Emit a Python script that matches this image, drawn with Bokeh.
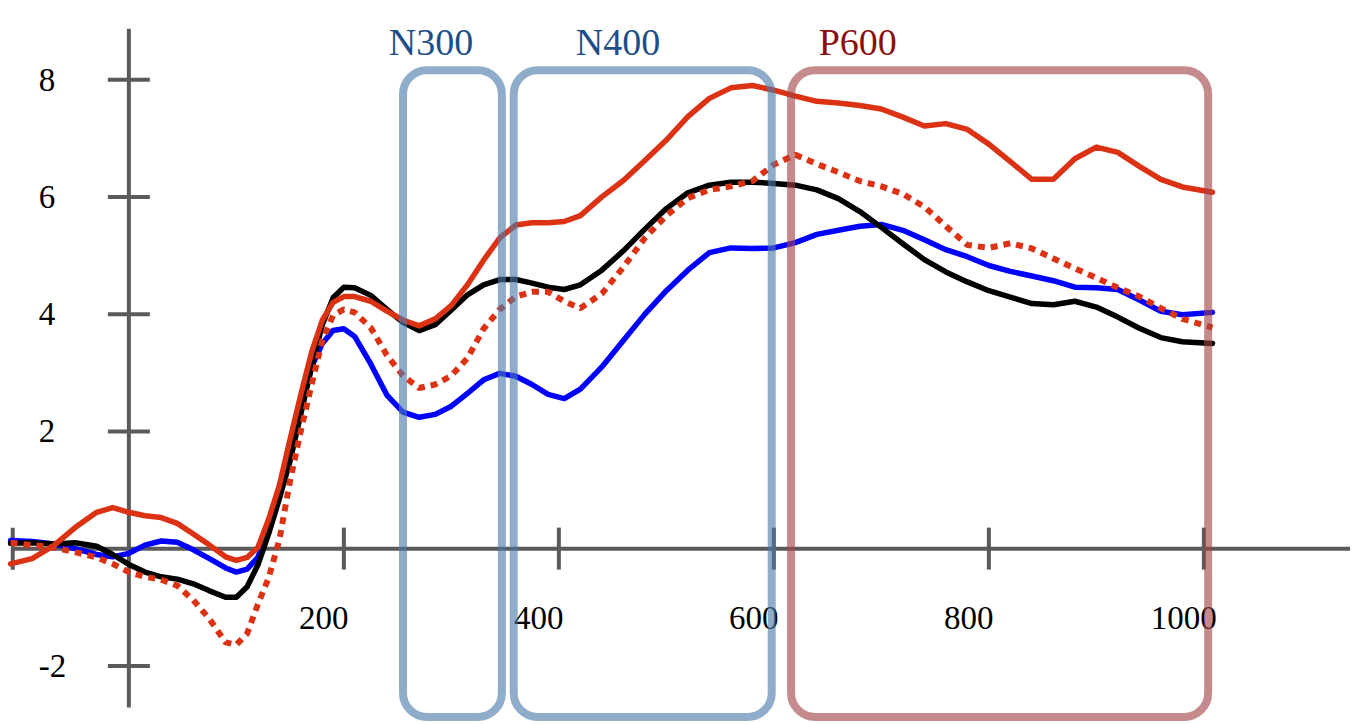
from math import pi
from bokeh.plotting import figure
from bokeh.models import Range1d, BoxAnnotation
from bokeh.core.properties import value
from bokeh.embed import file_html
from bokeh.resources import INLINE

# ---- data ----
time_ms = [-110, -90, -70, -50, -30, -15, 0, 15, 30, 45, 60, 75, 90,
           100, 110, 120, 130, 140, 150, 160, 170, 180, 190, 200, 210,
           225, 240, 255, 270, 285, 300, 315, 330, 345, 360, 375, 390, 405, 420,
           440, 460, 480, 500, 520, 540, 560, 580, 600, 620, 640, 660, 680, 700,
           720, 740, 760, 780, 800, 820, 840, 860, 880, 900, 920, 940, 960, 980,
           1008]

red_solid = [-0.26, -0.17, 0.05, 0.36, 0.62, 0.70, 0.62, 0.56, 0.53, 0.43, 0.25, 0.06, -0.14,
             -0.20, -0.15, 0.02, 0.50, 1.08, 1.87, 2.63, 3.35, 3.90, 4.20, 4.30, 4.30,
             4.22, 4.05, 3.90, 3.80, 3.92, 4.15, 4.50, 4.92, 5.30, 5.52, 5.56, 5.56, 5.58, 5.68,
             6.00, 6.28, 6.62, 6.97, 7.37, 7.68, 7.86, 7.90, 7.82, 7.72, 7.63, 7.60, 7.56, 7.50,
             7.36, 7.21, 7.25, 7.15, 6.90, 6.60, 6.30, 6.30, 6.65, 6.85, 6.76, 6.52, 6.30, 6.17,
             6.08]

black_solid = [0.09, 0.10, 0.08, 0.10, 0.04, -0.10, -0.27, -0.40, -0.48, -0.52, -0.60, -0.72, -0.83,
               -0.83, -0.65, -0.28, 0.25, 0.85, 1.50, 2.30, 3.10, 3.82, 4.28, 4.46, 4.45,
               4.32, 4.08, 3.86, 3.72, 3.82, 4.07, 4.33, 4.50, 4.59, 4.59, 4.53, 4.46, 4.42, 4.50,
               4.75, 5.08, 5.45, 5.80, 6.07, 6.20, 6.25, 6.25, 6.23, 6.20, 6.12, 5.97, 5.75, 5.48,
               5.20, 4.93, 4.72, 4.55, 4.40, 4.29, 4.18, 4.16, 4.22, 4.12, 3.95, 3.76, 3.60, 3.53,
               3.50]

blue_solid = [0.14, 0.12, 0.08, 0.00, -0.10, -0.14, -0.08, 0.06, 0.13, 0.11, -0.02, -0.17, -0.33,
              -0.40, -0.35, -0.15, 0.36, 0.88, 1.58, 2.40, 3.10, 3.50, 3.72, 3.75, 3.62,
              3.15, 2.62, 2.33, 2.24, 2.29, 2.43, 2.65, 2.88, 2.99, 2.94, 2.80, 2.63, 2.56, 2.72,
              3.10, 3.55, 4.00, 4.40, 4.75, 5.05, 5.13, 5.12, 5.13, 5.22, 5.36, 5.43, 5.50, 5.53,
              5.43, 5.27, 5.10, 4.98, 4.83, 4.73, 4.65, 4.57, 4.46, 4.45, 4.42, 4.24, 4.05, 3.99,
              4.03]

red_dotted = [0.10, 0.06, 0.02, -0.06, -0.15, -0.26, -0.40, -0.48, -0.53, -0.63, -0.88, -1.20, -1.60,
              -1.64, -1.45, -0.95, -0.50, 0.15, 1.16, 2.01, 2.80, 3.55, 3.98, 4.08, 4.03,
              3.77, 3.30, 2.95, 2.74, 2.80, 2.95, 3.25, 3.75, 4.08, 4.30, 4.38, 4.38, 4.22, 4.10,
              4.35, 4.80, 5.30, 5.68, 5.98, 6.12, 6.18, 6.27, 6.55, 6.72, 6.56, 6.42, 6.27, 6.18,
              6.05, 5.83, 5.50, 5.18, 5.13, 5.21, 5.12, 4.95, 4.78, 4.62, 4.45, 4.30, 4.10, 3.92,
              3.77]

x_tick_values = [200, 400, 600, 800, 1000]
x_tick_labels = ["200", "400", "600", "800", "1000"]
y_tick_values = [8, 6, 4, 2, -2]
y_tick_labels = ["8", "6", "4", "2", "-2"]

window_names = ["N300", "N400", "P600"]
window_start = [255, 358, 616]
window_end = [347, 598, 1004]
window_label_x = [281, 455, 678]

# ---- styling ----
AXIS = "#5a5a5a"
RED = "#dc3214"
BLUE = "#0000ff"
window_line_colors = ["#4a7aab", "#4a7aab", "#a14246"]
window_text_colors = ["#1d4e89", "#1d4e89", "#8a0f0f"]

p = figure(width=1360, height=724,
           x_range=Range1d(-119.4, 1145.7), y_range=Range1d(-3.0, 9.35),
           output_backend="svg", toolbar_location=None,
           x_axis_location=None, y_axis_location=None,
           min_border=0, background_fill_color="white",
           border_fill_color="white")
p.grid.visible = False
p.outline_line_color = None

# axes drawn through the origin
p.segment(x0=[-108, 0], y0=[0, -2.71], x1=[1136, 0], y1=[0, 8.87],
          line_color=AXIS, line_width=4)
p.scatter(x=x_tick_values, y=[0] * len(x_tick_values), marker="dash", angle=pi / 2,
          size=42, line_color=AXIS, line_width=4)
p.scatter(x=[-108], y=[0], marker="dash", angle=pi / 2,
          size=42, line_color=AXIS, line_width=4)
p.scatter(x=[0] * len(y_tick_values), y=y_tick_values, marker="dash",
          size=42, line_color=AXIS, line_width=4)

p.text(x=x_tick_values, y=[0] * len(x_tick_values), text=x_tick_labels,
       text_font=value("Liberation Serif"), text_font_size="33px", text_color="black",
       text_align="center", text_baseline="middle", x_offset=-20, y_offset=69)
p.text(x=[0] * len(y_tick_values), y=y_tick_values, text=y_tick_labels,
       text_font=value("Liberation Serif"), text_font_size="33px", text_color="black",
       text_align="left", text_baseline="middle", x_offset=-90)

# curves
p.line(time_ms, blue_solid, line_color=BLUE, line_width=5.5, line_join="round", line_cap="round")
p.line(time_ms, black_solid, line_color="black", line_width=5.5, line_join="round", line_cap="round")
p.line(time_ms, red_dotted, line_color=RED, line_width=6, line_dash="7 6")
p.line(time_ms, red_solid, line_color=RED, line_width=5.5, line_join="round", line_cap="round")

# component windows
for s, e, c in zip(window_start, window_end, window_line_colors):
    p.add_layout(BoxAnnotation(left=s, right=e, bottom=-2.87, top=8.16,
                               fill_alpha=0, line_color=c, line_alpha=0.62,
                               line_width=8, border_radius=24))

p.text(x=window_label_x, y=[8.65] * len(window_names), text=window_names,
       text_color=window_text_colors, text_font=value("Liberation Serif"),
       text_font_size="38px", text_align="center", text_baseline="alphabetic")

open("out.html", "w").write(file_html(p, INLINE))
